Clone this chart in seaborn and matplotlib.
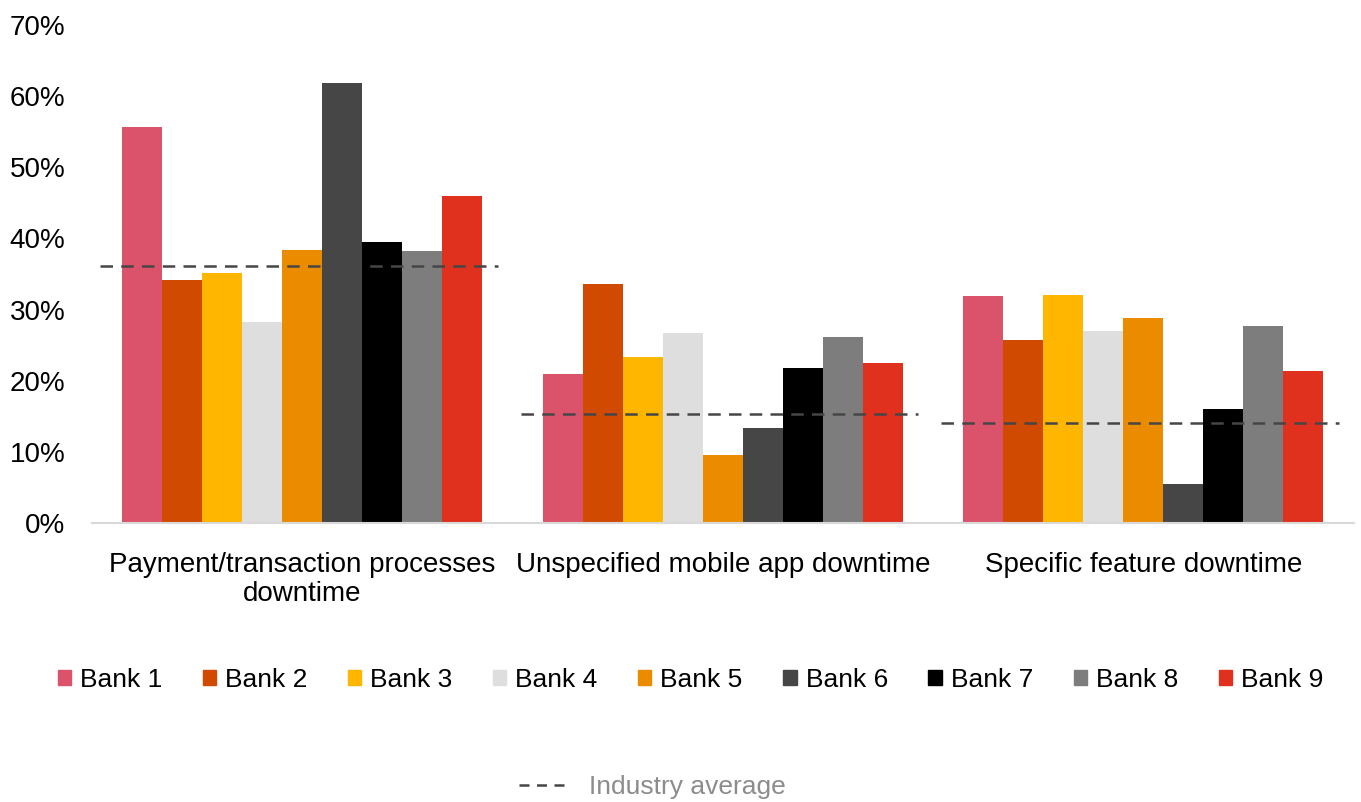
import pandas as pd
import numpy as np
import matplotlib
matplotlib.use("Agg")
import matplotlib.pyplot as plt
from matplotlib.lines import Line2D
import seaborn as sns

# values (share of complaints, %)
categories = ["Payment/transaction processes\ndowntime",
              "Unspecified mobile app downtime",
              "Specific feature downtime"]
banks = [f"Bank {i}" for i in range(1, 10)]
payment_vals = [55.6, 34.2, 35.2, 28.3, 38.4, 61.9, 39.5, 38.3, 45.9]
unspecified_vals = [20.9, 33.6, 23.3, 26.7, 9.6, 13.3, 21.8, 26.1, 22.5]
feature_vals = [31.9, 25.7, 32.0, 27.0, 28.8, 5.5, 16.0, 27.7, 21.3]
industry_avg = [36.1, 15.3, 14.1]

bank_colors = ["#DB536A", "#D04A02", "#FFB600", "#DEDEDE", "#EB8C00",
               "#464646", "#000000", "#7D7D7D", "#E0301E"]

rows = []
for cat, vals in zip(categories, [payment_vals, unspecified_vals, feature_vals]):
    for bank, v in zip(banks, vals):
        rows.append({"category": cat, "bank": bank, "value": v / 100})
df = pd.DataFrame(rows)

sns.set_style("white")
plt.rcParams["font.family"] = ["Liberation Sans", "DejaVu Sans"]

fig = plt.figure(figsize=(13.61, 8.02), dpi=100)
ax = fig.add_axes([0.0676, 0.3479, 0.9269, 0.6209])

sns.barplot(data=df, x="category", y="value", hue="bank",
            palette=bank_colors, width=0.856, gap=0, linewidth=0,
            saturation=1, legend=False, ax=ax)

# industry average dashed line per category
for i, avg in enumerate(industry_avg):
    ax.hlines(avg / 100, i - 0.48, i + 0.465, colors="#464646",
              linewidth=1.8, linestyles=(0, (5, 3.3)), zorder=5)

ax.set_xlim(-0.5, 2.5)
ax.set_ylim(0, 0.70)
ax.set_yticks(np.arange(0, 0.71, 0.1))
ax.set_yticklabels([f"{int(round(t * 100))}%" for t in np.arange(0, 0.71, 0.1)])
ax.set_xlabel("")
ax.set_ylabel("")
ax.tick_params(axis="both", length=0, labelsize=20, colors="black")
ax.tick_params(axis="y", pad=19)
ax.tick_params(axis="x", pad=21)
for lbl in ax.get_xticklabels():
    lbl.set_linespacing(1.15)
for s in ["top", "right", "left"]:
    ax.spines[s].set_visible(False)
ax.spines["bottom"].set_color("#D9D9D9")
ax.spines["bottom"].set_linewidth(1.5)
ax.grid(False)

# bank legend
handles = [plt.Rectangle((0, 0), 1, 1, color=c) for c in bank_colors]
fig.legend(handles, banks, loc="center", bbox_to_anchor=(0.5074, 0.152),
           ncol=9, frameon=False, fontsize=19, labelcolor="black",
           handlelength=0.5, handleheight=0.5, handletextpad=0.34,
           columnspacing=1.54)

# industry average legend
avg_handle = Line2D([0], [0], color="#464646", linewidth=1.8,
                    linestyle=(0, (4, 3)))
leg2 = fig.legend([avg_handle], ["Industry average"], loc="center",
                  bbox_to_anchor=(0.4794, 0.019), frameon=False, fontsize=19,
                  handlelength=1.73, handletextpad=0.94)
for t in leg2.get_texts():
    t.set_color("#8C8C8C")

fig.savefig("out.png", dpi=100)
